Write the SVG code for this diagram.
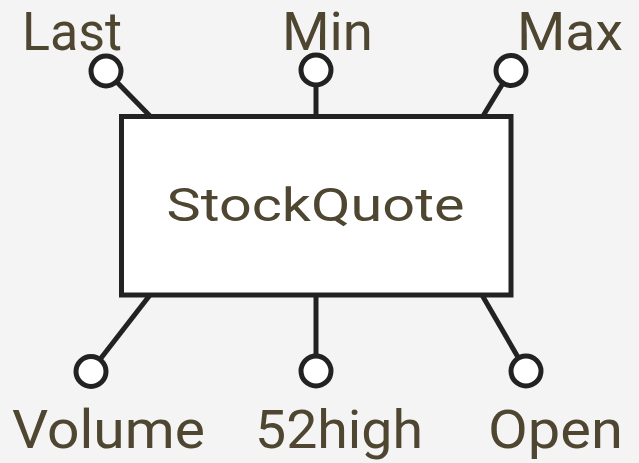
<svg xmlns="http://www.w3.org/2000/svg" width="639" height="463" viewBox="0 0 639 463">
  <style>
    .bg { fill: #f4f4f4; }
    .box { fill: #ffffff; stroke: #222222; stroke-width: 5; }
    .wire { stroke: #222222; stroke-width: 5; fill: none; }
    .port { fill: #ffffff; stroke: #222222; stroke-width: 5; }
    .lbl { font-family: Roboto, "Open Sans", "Liberation Sans", sans-serif; fill: #4e4630; }
    .pin { font-size: 53px; }
    .title { font-size: 46px; }
  </style>
  <rect class="bg" x="0" y="0" width="639" height="463"/>

  <!-- stems from the box to each port -->
  <g id="connectors">
    <line class="wire" x1="106" y1="71" x2="150" y2="116"/>
    <line class="wire" x1="316" y1="70" x2="316" y2="116"/>
    <line class="wire" x1="511" y1="70" x2="483" y2="116"/>
    <line class="wire" x1="150" y1="295" x2="91" y2="371"/>
    <line class="wire" x1="316" y1="295" x2="316" y2="371"/>
    <line class="wire" x1="482" y1="295" x2="526" y2="371"/>
  </g>

  <g id="stockquote">
    <rect class="box" x="121.5" y="116.5" width="389.5" height="178.5"/>
    <text class="lbl title" x="166.5" y="221" textLength="298" lengthAdjust="spacingAndGlyphs">StockQuote</text>
  </g>

  <g id="port-last">
    <circle class="port" cx="106" cy="71" r="15"/>
    <text class="lbl pin" x="22" y="50" textLength="100" lengthAdjust="spacingAndGlyphs">Last</text>
  </g>
  <g id="port-min">
    <circle class="port" cx="316" cy="70" r="15"/>
    <text class="lbl pin" x="282" y="50" textLength="91" lengthAdjust="spacingAndGlyphs">Min</text>
  </g>
  <g id="port-max">
    <circle class="port" cx="511" cy="70.5" r="15"/>
    <text class="lbl pin" x="517" y="50" textLength="106" lengthAdjust="spacingAndGlyphs">Max</text>
  </g>
  <g id="port-volume">
    <circle class="port" cx="91" cy="371.5" r="15"/>
    <text class="lbl pin" x="12" y="448" textLength="193" lengthAdjust="spacingAndGlyphs">Volume</text>
  </g>
  <g id="port-52high">
    <circle class="port" cx="316" cy="371" r="15"/>
    <text class="lbl pin" x="255" y="448" textLength="168" lengthAdjust="spacingAndGlyphs">52high</text>
  </g>
  <g id="port-open">
    <circle class="port" cx="526" cy="371" r="15"/>
    <text class="lbl pin" x="488" y="448" textLength="135" lengthAdjust="spacingAndGlyphs">Open</text>
  </g>
</svg>
